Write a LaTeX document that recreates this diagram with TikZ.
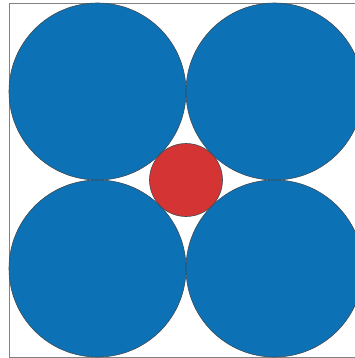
\documentclass[tikz,border=0pt]{standalone}
\definecolor{bigblue}{RGB}{12,114,181}
\definecolor{smallred}{RGB}{213,52,52}
\definecolor{edgegray}{RGB}{60,75,85}
\definecolor{framegray}{RGB}{130,130,130}
\begin{document}
\begin{tikzpicture}[x=1pt,y=-1pt,
  bigdisc/.style={circle,fill=bigblue,draw=edgegray,line width=0.6pt,minimum size=177pt,inner sep=0pt,outer sep=0pt},
  smalldisc/.style={circle,fill=smallred,draw=edgegray,line width=0.6pt,minimum size=73pt,inner sep=0pt,outer sep=0pt}]
\useasboundingbox (0,0) rectangle (355,358);
\draw[framegray,line width=0.8pt] (9,3) rectangle (363,357);
\node[bigdisc] (tl) at (97.5,91.5) {};
\node[bigdisc] (tr) at (274.5,91.5) {};
\node[bigdisc] (bl) at (97.5,268.5) {};
\node[bigdisc] (br) at (274.5,268.5) {};
\node[smalldisc] (mid) at (186,180) {};
\end{tikzpicture}
\end{document}
